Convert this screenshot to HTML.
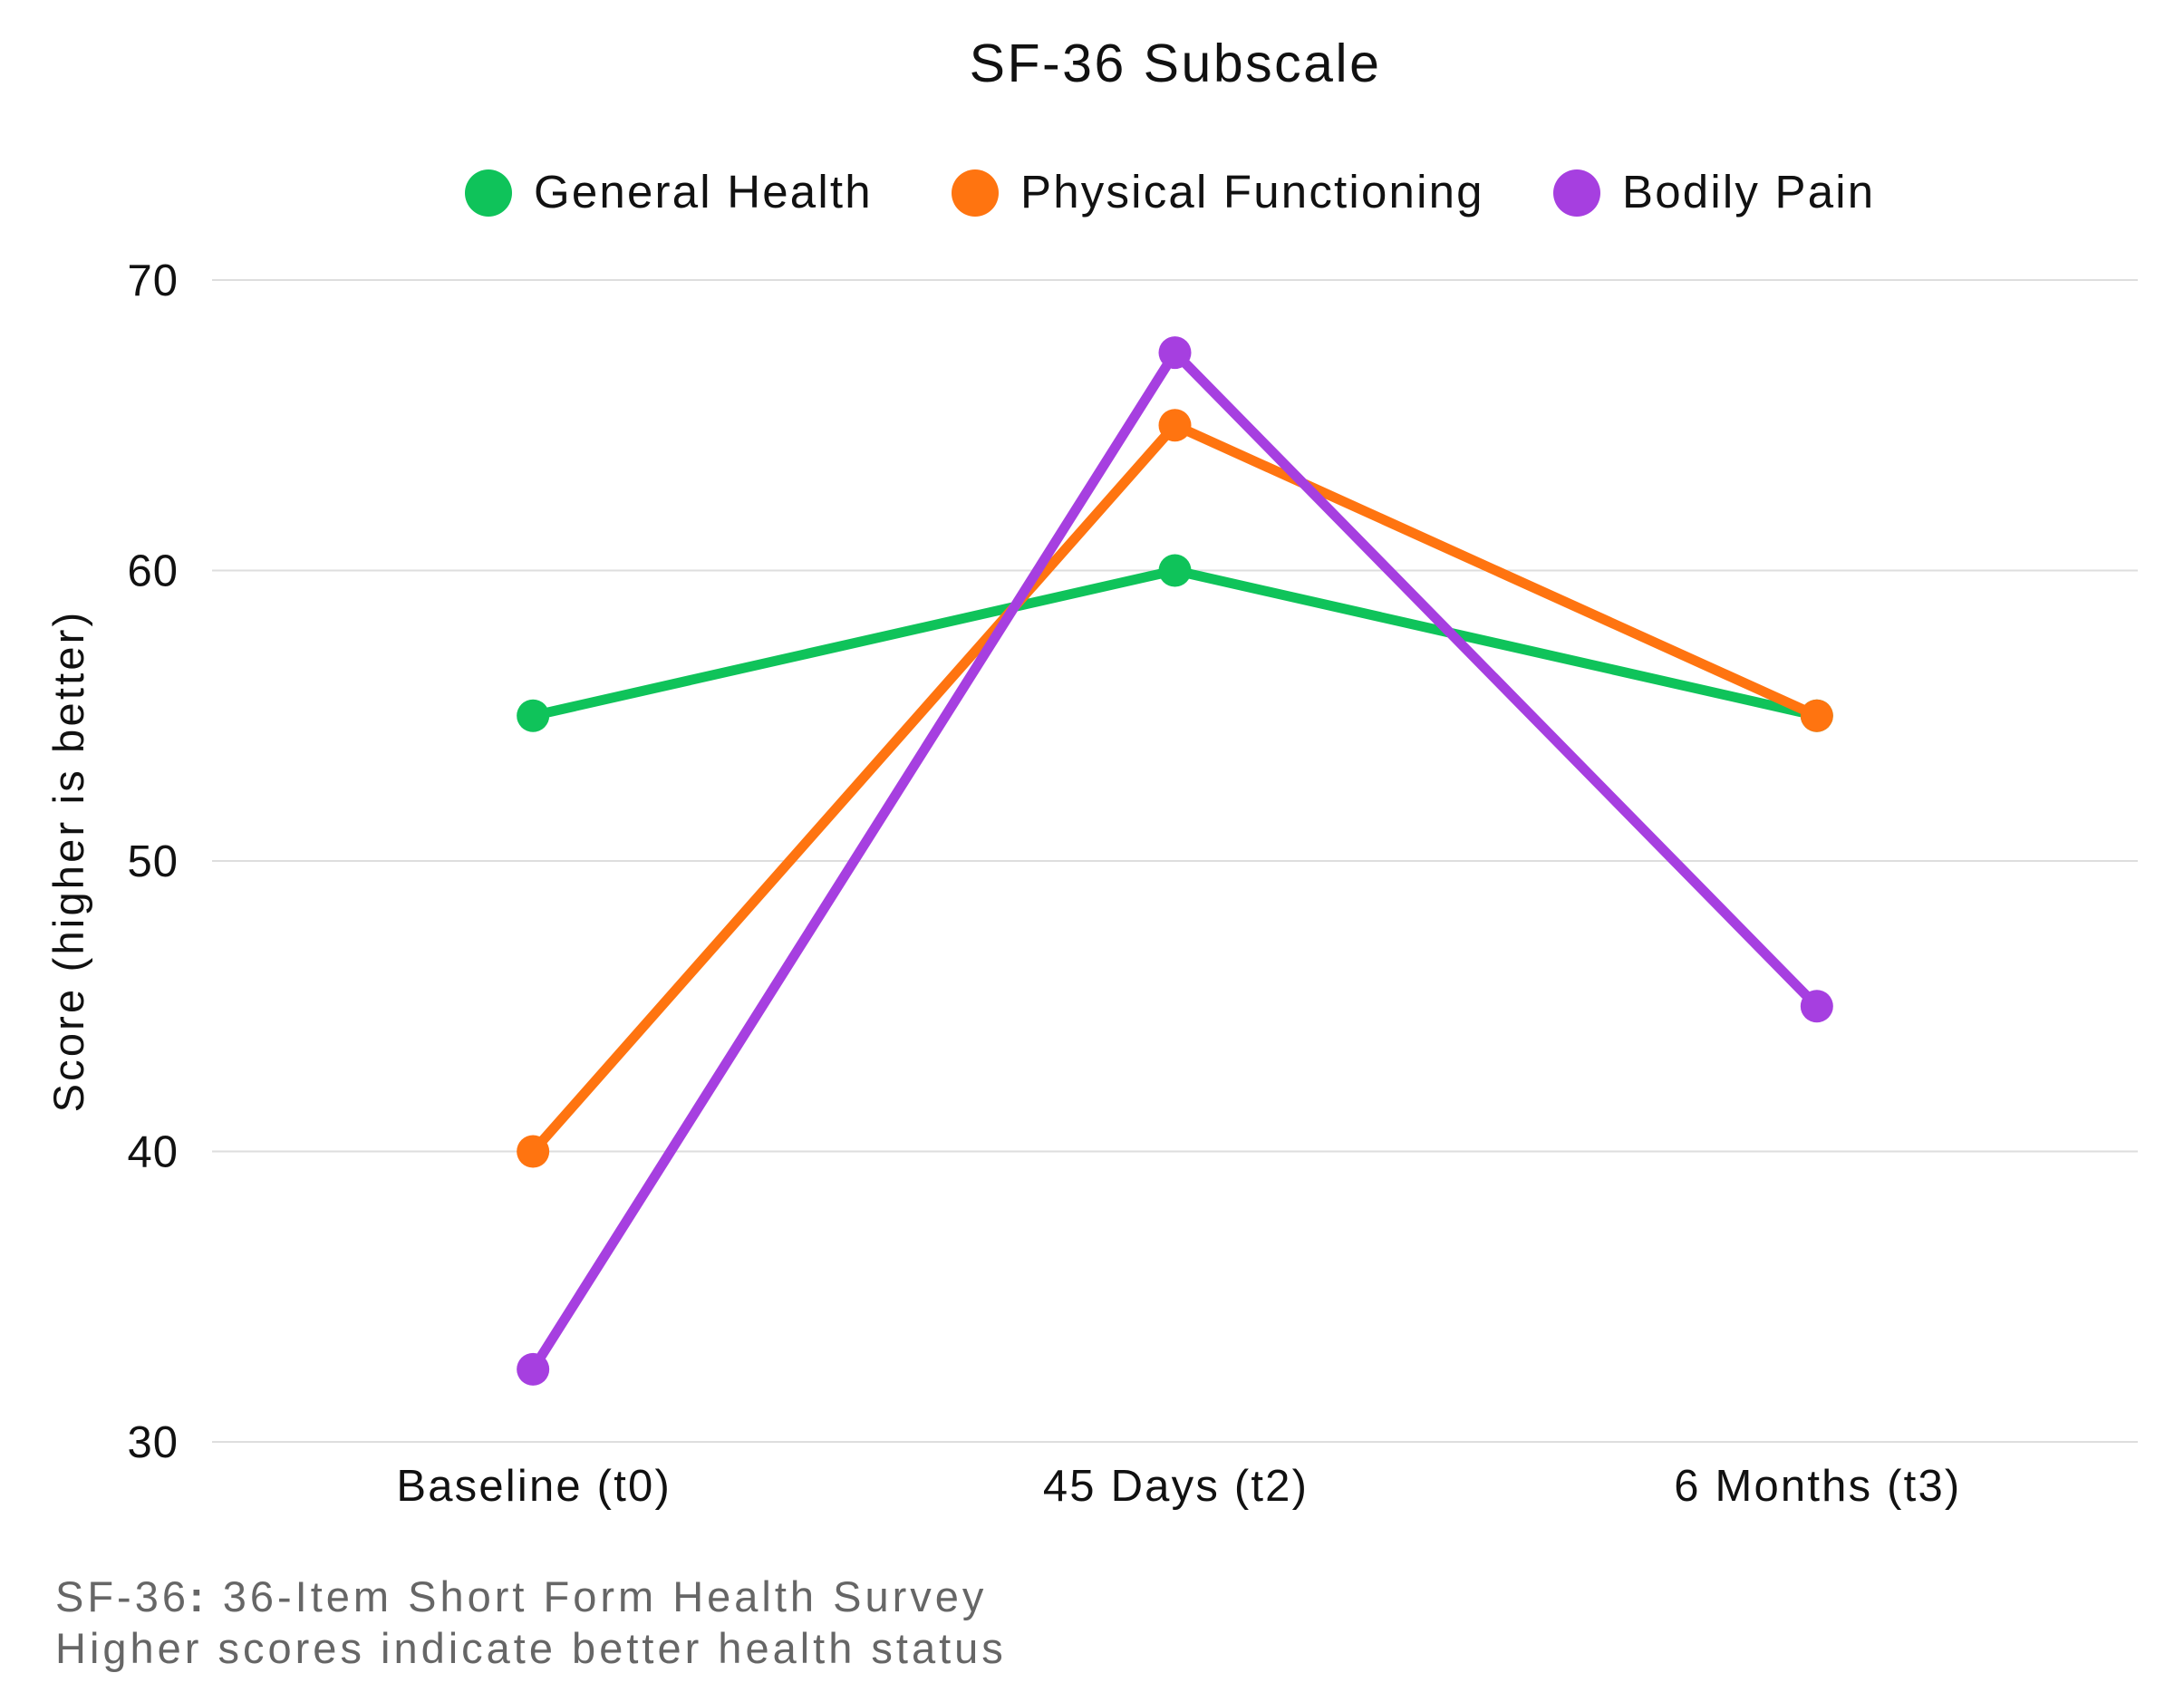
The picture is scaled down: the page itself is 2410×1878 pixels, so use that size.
<!DOCTYPE html>
<html><head><meta charset="utf-8"><style>
html,body{margin:0;padding:0;background:#fff;}
svg{display:block;font-family:"Liberation Sans","DejaVu Sans",sans-serif;}
</style></head><body>
<svg id="chart" width="2410" height="1878" viewBox="0 0 2410 1878">
<text x="1297" y="90" text-anchor="middle" font-size="59" letter-spacing="2.5" fill="#111">SF-36 Subscale</text>
<g id="legend"></g>
<g id="grid"></g>
<g id="yticks"></g>
<g id="xticks"></g>
<text transform="translate(92,950) rotate(-90)" text-anchor="middle" font-size="47" letter-spacing="3.2" fill="#111">Score (higher is better)</text>
<g id="series"></g>
<text x="61" y="1778" font-size="47" letter-spacing="4" fill="#666">SF-36<tspan font-weight="bold">:</tspan> 36-Item Short Form Health Survey</text>
<text x="61" y="1835" font-size="47" letter-spacing="4" fill="#666">Higher scores indicate better health status</text>
</svg>
<script>
const categories = ["Baseline (t0)", "45 Days (t2)", "6 Months (t3)"];
const seriesNames = ["General Health", "Physical Functioning", "Bodily Pain"];
const generalHealth = [55, 60, 55];
const physicalFunctioning = [40, 65, 55];
const bodilyPain = [32.5, 67.5, 45];
const yTicks = [30, 40, 50, 60, 70];

const NS = "http://www.w3.org/2000/svg";
const colors = ["#0fc35a", "#ff7410", "#a63fe0"];
const plotL = 234, plotR = 2359, yTop = 309, yBot = 1591;
const yMin = 30, yMax = 70;
function yScale(v){ return yBot - (v - yMin) / (yMax - yMin) * (yBot - yTop); }
function xScale(i){ const step = (plotR - plotL) / categories.length; return plotL + step * (i + 0.5); }
function mk(tag, attrs, parent){ const e = document.createElementNS(NS, tag); for (const k in attrs) e.setAttribute(k, attrs[k]); parent.appendChild(e); return e; }

const grid = document.getElementById("grid"), yt = document.getElementById("yticks"), xt = document.getElementById("xticks");
yTicks.forEach(v => {
  const l = mk("line", {x1: plotL, x2: plotR, y1: yScale(v), y2: yScale(v), stroke: "#dedede", "stroke-width": 2}, grid);
  
  
  const t = mk("text", {x: 197, y: yScale(v) + 17, "text-anchor": "end", "font-size": 49, "letter-spacing": 1, fill: "#111"}, yt);
  t.textContent = v;
  
  
});
categories.forEach((c, i) => {
  const t = mk("text", {x: xScale(i) + 1, y: 1656, "text-anchor": "middle", "font-size": 49, "letter-spacing": 2.2, fill: "#111"}, xt);
  t.textContent = c;
  
  
});

const seriesData = [generalHealth, physicalFunctioning, bodilyPain];
const sg = document.getElementById("series");
seriesData.forEach((vals, s) => {
  const g = mk("g", {}, sg);
  
  
  const pts = vals.map((v, i) => xScale(i) + "," + yScale(v)).join(" ");
  const pl = mk("polyline", {points: pts, fill: "none", stroke: colors[s], "stroke-width": 11, "stroke-linejoin": "round"}, g);
  
  
  vals.forEach((v, i) => {
    const c = mk("circle", {cx: xScale(i), cy: yScale(v), r: 18, fill: colors[s]}, g);
    
    
  });
});

const lg = document.getElementById("legend");
const legX = [539, 1076, 1740];
seriesNames.forEach((n, s) => {
  const g = mk("g", {}, lg);
  
  
  mk("circle", {cx: legX[s], cy: 213, r: 26, fill: colors[s]}, g);
  const t = mk("text", {x: legX[s] + 50, y: 229, "font-size": 51, "letter-spacing": 2.2, fill: "#111"}, g);
  t.textContent = n;
});
</script>
</body></html>
